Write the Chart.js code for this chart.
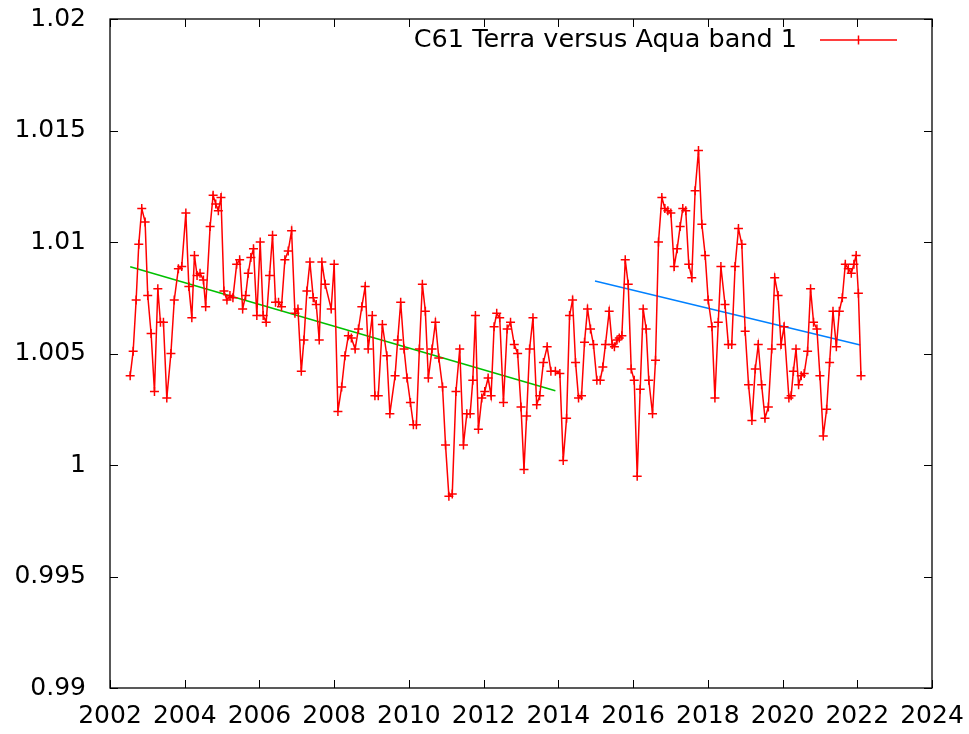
<!DOCTYPE html>
<html><head><meta charset="utf-8">
<script src="https://cdn.jsdelivr.net/npm/chart.js@4.4.1/dist/chart.umd.min.js"></script>
<style>html,body{margin:0;padding:0;background:#fff}#wrap{width:969px;height:734px}</style>
</head><body><div id="wrap"><canvas id="c" width="969" height="734"></canvas></div>
<script>
const seriesLabel = 'C61 Terra versus Aqua band 1';

const years = [
2002.54,2002.62,2002.70,2002.77,2002.85,2002.94,2003.01,2003.10,2003.19,2003.28,
2003.35,2003.43,2003.52,2003.63,2003.72,2003.83,2003.92,2004.03,2004.11,2004.19,
2004.26,2004.33,2004.41,2004.50,2004.56,2004.68,2004.76,2004.83,2004.90,2004.97,
2005.05,2005.13,2005.21,2005.29,2005.39,2005.47,2005.55,2005.63,2005.70,2005.77,
2005.84,2005.93,2006.02,2006.10,2006.18,2006.27,2006.35,2006.43,2006.51,2006.59,
2006.68,2006.77,2006.86,2006.95,2007.03,2007.12,2007.19,2007.27,2007.35,2007.44,
2007.52,2007.60,2007.67,2007.76,2007.92,2008.00,2008.10,2008.20,2008.29,2008.38,
2008.46,2008.56,2008.65,2008.74,2008.83,2008.91,2009.02,2009.09,2009.18,2009.29,
2009.41,2009.49,2009.63,2009.70,2009.78,2009.87,2009.95,2010.04,2010.12,2010.20,
2010.28,2010.36,2010.44,2010.52,2010.62,2010.71,2010.80,2010.90,2010.98,2011.07,
2011.16,2011.26,2011.36,2011.46,2011.55,2011.64,2011.71,2011.78,2011.86,2011.95,
2012.03,2012.12,2012.20,2012.28,2012.35,2012.43,2012.53,2012.63,2012.72,2012.82,
2012.91,2013.00,2013.08,2013.15,2013.23,2013.32,2013.42,2013.50,2013.60,2013.70,
2013.80,2013.92,2014.04,2014.13,2014.22,2014.30,2014.38,2014.46,2014.54,2014.62,
2014.70,2014.78,2014.86,2014.94,2015.03,2015.12,2015.19,2015.26,2015.36,2015.44,
2015.50,2015.57,2015.63,2015.70,2015.79,2015.87,2015.95,2016.03,2016.11,2016.19,
2016.27,2016.35,2016.42,2016.52,2016.60,2016.68,2016.77,2016.85,2016.93,2017.01,
2017.10,2017.18,2017.26,2017.33,2017.41,2017.49,2017.57,2017.66,2017.75,2017.84,
2017.93,2018.01,2018.11,2018.19,2018.28,2018.35,2018.46,2018.55,2018.64,2018.73,
2018.82,2018.91,2019.00,2019.09,2019.18,2019.27,2019.35,2019.44,2019.53,2019.62,
2019.71,2019.79,2019.88,2019.96,2020.04,2020.17,2020.23,2020.29,2020.36,2020.43,
2020.50,2020.58,2020.67,2020.75,2020.83,2020.92,2021.00,2021.09,2021.18,2021.26,
2021.35,2021.44,2021.52,2021.60,2021.68,2021.76,2021.84,2021.91,2021.97,2022.03,
2022.10
];

const ratio = [
1.0040,1.0051,1.0074,1.0099,1.0115,1.0109,1.0076,1.0059,1.0033,1.0079,
1.0064,1.0064,1.0030,1.0050,1.0074,1.0088,1.0089,1.0113,1.0080,1.0066,
1.0094,1.0085,1.0086,1.0083,1.0071,1.0107,1.0121,1.0117,1.0114,1.0120,
1.0078,1.0074,1.0076,1.0075,1.0090,1.0092,1.0070,1.0076,1.0086,1.0093,
1.0097,1.0067,1.0100,1.0067,1.0064,1.0085,1.0103,1.0073,1.0073,1.0071,
1.0092,1.0096,1.0105,1.0068,1.0070,1.0042,1.0056,1.0078,1.0091,1.0075,
1.0072,1.0056,1.0091,1.0081,1.0070,1.0090,1.0024,1.0035,1.0049,1.0058,
1.0057,1.0052,1.0061,1.0071,1.0080,1.0052,1.0067,1.0031,1.0031,1.0063,
1.0049,1.0023,1.0040,1.0056,1.0073,1.0052,1.0039,1.0028,1.0018,1.0018,
1.0052,1.0081,1.0069,1.0039,1.0052,1.0064,1.0048,1.0035,1.0009,0.9986,
0.9987,1.0033,1.0052,1.0009,1.0023,1.0023,1.0038,1.0067,1.0016,1.0030,
1.0033,1.0039,1.0031,1.0062,1.0068,1.0066,1.0028,1.0061,1.0064,1.0054,
1.0050,1.0026,0.9998,1.0022,1.0052,1.0066,1.0027,1.0031,1.0046,1.0053,
1.0042,1.0042,1.0041,1.0002,1.0021,1.0067,1.0074,1.0046,1.0030,1.0031,
1.0055,1.0070,1.0061,1.0054,1.0038,1.0038,1.0044,1.0054,1.0069,1.0054,
1.0053,1.0056,1.0057,1.0058,1.0092,1.0081,1.0043,1.0038,0.9995,1.0034,
1.0070,1.0061,1.0038,1.0023,1.0047,1.0100,1.0120,1.0115,1.0114,1.0113,
1.0089,1.0097,1.0107,1.0115,1.0114,1.0090,1.0084,1.0123,1.0141,1.0108,
1.0094,1.0074,1.0062,1.0030,1.0064,1.0089,1.0072,1.0054,1.0054,1.0089,
1.0106,1.0099,1.0060,1.0036,1.0020,1.0043,1.0054,1.0036,1.0021,1.0026,
1.0052,1.0084,1.0076,1.0054,1.0062,1.0030,1.0031,1.0042,1.0052,1.0036,
1.0040,1.0041,1.0051,1.0079,1.0064,1.0061,1.0040,1.0013,1.0025,1.0046,
1.0069,1.0053,1.0069,1.0075,1.0090,1.0088,1.0086,1.0090,1.0094,1.0077,
1.0040
];

const fitEarlyX = [2002.54, 2013.92];
const fitEarlyY = [1.00889, 1.00333];
const fitLateX = [2014.98, 2022.08];
const fitLateY = [1.00825, 1.00538];

const xTicks = [2002,2004,2006,2008,2010,2012,2014,2016,2018,2020,2022,2024];
const xTickLabels = ['2002','2004','2006','2008','2010','2012','2014','2016','2018','2020','2022','2024'];
const yTicks = [0.99,0.995,1,1.005,1.01,1.015,1.02];
const yTickLabels = ['0.99','0.995','1','1.005','1.01','1.015','1.02'];

const FONT = 'DejaVu Sans';
const toXY = (xs, ys) => xs.map((x, i) => ({x: x, y: ys[i]}));

const framePlugin = {
  id: 'frame',
  afterDraw(chart) {
    const {ctx, chartArea: a, scales} = chart;
    ctx.save();
    ctx.strokeStyle = '#000';
    ctx.lineWidth = 1.3;
    ctx.strokeRect(a.left, a.top, a.right - a.left, a.bottom - a.top);
    const L = 8;
    ctx.beginPath();
    xTicks.forEach(v => {
      const px = Math.round(scales.x.getPixelForValue(v)) + 0.5;
      ctx.moveTo(px, a.bottom); ctx.lineTo(px, a.bottom - L);
      ctx.moveTo(px, a.top); ctx.lineTo(px, a.top + L);
    });
    yTicks.forEach(v => {
      const py = Math.round(scales.y.getPixelForValue(v)) + 0.5;
      ctx.moveTo(a.left, py); ctx.lineTo(a.left + L, py);
      ctx.moveTo(a.right, py); ctx.lineTo(a.right - L, py);
    });
    ctx.lineWidth = 1;
    ctx.stroke();

    // legend (inside plot, top right)
    const ds = chart.data.datasets[0];
    const ly = a.top + 21;
    ctx.font = '25.5px "' + FONT + '"';
    ctx.fillStyle = '#000';
    ctx.textAlign = 'right';
    ctx.textBaseline = 'middle';
    ctx.fillText(ds.label, a.right - 135, ly);
    const x0 = a.right - 112, x1 = a.right - 35, xm = (x0 + x1) / 2;
    ctx.strokeStyle = ds.borderColor;
    ctx.lineWidth = 1.5;
    ctx.beginPath();
    ctx.moveTo(x0, ly); ctx.lineTo(x1, ly);
    ctx.moveTo(xm, ly - 4.5); ctx.lineTo(xm, ly + 4.5);
    ctx.stroke();
    ctx.restore();
  }
};

new Chart(document.getElementById('c'), {
  type: 'line',
  data: {
    datasets: [
      {
        label: seriesLabel,
        data: toXY(years, ratio),
        borderColor: '#ff0000',
        backgroundColor: '#ff0000',
        borderWidth: 1.5,
        pointStyle: 'cross',
        pointRadius: 4.5,
        pointBorderWidth: 1.5,
        pointBorderColor: '#ff0000',
        tension: 0,
        fill: false
      },
      {
        label: 'fit 2002-2014',
        data: toXY(fitEarlyX, fitEarlyY),
        borderColor: '#00c000',
        borderWidth: 1.5,
        pointRadius: 0,
        fill: false
      },
      {
        label: 'fit 2015-2022',
        data: toXY(fitLateX, fitLateY),
        borderColor: '#0080ff',
        borderWidth: 1.5,
        pointRadius: 0,
        fill: false
      }
    ]
  },
  options: {
    responsive: false,
    animation: false,
    devicePixelRatio: 1,
    layout: {padding: {left: 0, right: 37, top: 19, bottom: 0}},
    plugins: {legend: {display: false}, tooltip: {enabled: false}},
    scales: {
      x: {
        type: 'linear', min: 2002, max: 2024,
        afterBuildTicks: s => { s.ticks = xTicks.map(v => ({value: v})); },
        afterFit: s => { s.height = 46; s.paddingLeft = 0; s.paddingRight = 0; s.paddingTop = 0; s.paddingBottom = 0; },
        grid: {display: false, drawTicks: false},
        border: {display: false},
        ticks: {
          autoSkip: false, maxRotation: 0, padding: 13, color: '#000',
          font: {family: FONT, size: 25},
          callback: (v) => xTickLabels[xTicks.indexOf(v)] ?? String(v)
        }
      },
      y: {
        type: 'linear', min: 0.99, max: 1.02,
        afterBuildTicks: s => { s.ticks = yTicks.map(v => ({value: v})); },
        afterFit: s => { s.width = 110; s.paddingLeft = 0; s.paddingRight = 0; s.paddingTop = 0; s.paddingBottom = 0; },
        grid: {display: false, drawTicks: false},
        border: {display: false},
        ticks: {
          autoSkip: false, padding: 24, color: '#000',
          font: {family: FONT, size: 25},
          callback: (v) => { const i = yTicks.findIndex(t => Math.abs(t - v) < 1e-9); return i >= 0 ? yTickLabels[i] : String(v); }
        }
      }
    }
  },
  plugins: [framePlugin]
});
</script>
</body></html>
